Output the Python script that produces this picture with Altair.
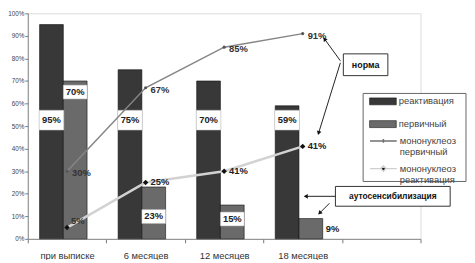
import math
import altair as alt
import pandas as pd

# ---------------- data ----------------
categories = ["при выписке", "6 месяцев", "12 месяцев", "18 месяцев"]
bar_series = ["реактивация", "первичный"]
react_values = [95, 75, 70, 59]
primary_values = [70, 23, 15, 9]
line_series = ["мононуклеоз первичный", "мононуклеоз реактивация"]
mono_primary = [30, 67, 85, 91]
mono_react = [5, 25, 30, 41]
mono_primary_labels = ["30%", "67%", "85%", "91%"]
mono_react_labels = ["5%", "25%", "41%", "41%"]
primary_label_at = [65.1, 9.9, 8.8, 4.4]   # where the grey-bar labels sit (value units)
y_ticks = list(range(0, 101, 10))

FONT = "Liberation Sans"
x_domain = categories + [" "]

bars = pd.DataFrame({
    "cat": categories * 2,
    "series": [bar_series[0]] * 4 + [bar_series[1]] * 4,
    "value": react_values + primary_values,
    "label": [f"{v}%" for v in react_values + primary_values],
})
react_df = bars[bars.series == bar_series[0]]
prim_lab = pd.DataFrame({
    "cat": categories, "series": bar_series[1],
    "at": primary_label_at, "label": [f"{v}%" for v in primary_values],
    "idx": range(4),
})
lines = pd.DataFrame({
    "cat": categories * 2,
    "series": [line_series[0]] * 4 + [line_series[1]] * 4,
    "value": mono_primary + mono_react,
    "label": mono_primary_labels + mono_react_labels,
    "idx": list(range(4)) * 2,
})
l1 = lines[lines.series == line_series[0]]
l2 = lines[lines.series == line_series[1]]
one = pd.DataFrame({"k": [0]})

# ---------------- encodings ----------------
X = alt.X("cat:N", sort=x_domain,
          scale=alt.Scale(domain=x_domain, paddingInner=0, paddingOuter=0),
          axis=alt.Axis(title=None, labelAngle=0, tickBand="extent", tickSize=4,
                        labelPadding=8, labelFontSize=9.5, labelColor="#333",
                        labelFont=FONT, tickColor="#777", domainColor="#888"))
XO = alt.XOffset("series:N",
                 scale=alt.Scale(domain=bar_series, paddingInner=0, paddingOuter=0.654, align=0.38))
Y_SCALE = alt.Scale(domain=[0, 100], nice=False)
Y_AXIS = alt.Axis(title=None, values=y_ticks, grid=False, labelExpr="datum.value + '%'",
                  labelOverlap=False, labelFontSize=6.4, labelFont=FONT, labelColor="#444",
                  tickSize=3, labelPadding=1, tickColor="#777", domainColor="#888")


def Yf(field):
    return alt.Y(field, scale=Y_SCALE, axis=Y_AXIS)


Xs = X

bar_layer = alt.Chart(bars).mark_bar(stroke="#111", strokeWidth=0.6).encode(
    x=X, xOffset=XO, y=Yf("value:Q"),
    color=alt.Color("series:N", scale=alt.Scale(domain=bar_series, range=["#383838", "#6a6a6a"]),
                    legend=alt.Legend(title=None, orient="none", legendX=345, legendY=84,
                                      padding=0, symbolType="M-1,-0.26H1V0.26H-1Z", symbolSize=729,
                                      symbolStrokeColor="#111", symbolStrokeWidth=0.6,
                                      clipHeight=10, rowPadding=13, labelOffset=2,
                                      labelFont=FONT, labelFontSize=9.5, labelColor="#444",
                                      labelLimit=200)),
)

box_path_big = "M-12.5,-10H12.5V10H-12.5Z"
box_path_small = "M-12,-7H12V7H-12Z"

react_box = alt.Chart(react_df).mark_point(shape=box_path_big, size=4, filled=True, fill="white",
                                           stroke="#bbb", strokeWidth=0.5, opacity=1).encode(
    x=Xs, xOffset=XO, y=alt.value(108))
react_txt = alt.Chart(react_df).mark_text(font=FONT, fontSize=9.5, fontWeight="bold", color="#222").encode(
    x=Xs, xOffset=XO, y=alt.value(108), text="label:N")

prim_in = alt.Chart(prim_lab).transform_filter("datum.idx < 3")
prim_box = prim_in.mark_point(shape=box_path_small, size=4, filled=True, fill="white",
                              stroke="#bbb", strokeWidth=0.5, opacity=1).encode(
    x=Xs, xOffset=XO, y=Yf("at:Q"))
prim_txt = prim_in.mark_text(font=FONT, fontSize=9.5, fontWeight="bold", color="#222").encode(
    x=Xs, xOffset=XO, y=Yf("at:Q"), text="label:N")
prim_out = alt.Chart(prim_lab).transform_filter("datum.idx == 3").mark_text(
    font=FONT, fontSize=9.5, fontWeight="bold", color="#222", align="left", dx=15).encode(
    x=Xs, xOffset=XO, y=Yf("at:Q"), text="label:N")

line1 = alt.Chart(l1).mark_line(color="#858585", strokeWidth=1.5).encode(x=Xs, y=Yf("value:Q"))
line2 = alt.Chart(l2).mark_line(color="#d2d2d2", strokeWidth=2.6).encode(x=Xs, y=Yf("value:Q"))
pts1 = alt.Chart(l1).mark_point(shape="circle", size=10, filled=True, color="#555", opacity=1).encode(
    x=Xs, y=Yf("value:Q"))
pts2 = alt.Chart(l2).mark_point(shape="diamond", size=30, filled=True, color="#111", opacity=1).encode(
    x=Xs, y=Yf("value:Q"))
lab1 = alt.Chart(l1).mark_text(font=FONT, fontSize=9.5, fontWeight="bold", color="#333",
                               align="left", dx=5, dy=2).encode(x=Xs, y=Yf("value:Q"), text="label:N")
lab2a = alt.Chart(l2).transform_filter("datum.idx == 0").mark_text(
    font=FONT, fontSize=9.5, fontWeight="bold", color="#333", align="left", dx=4, dy=-7).encode(
    x=Xs, y=Yf("value:Q"), text="label:N")
lab2b = alt.Chart(l2).transform_filter("datum.idx > 0").mark_text(
    font=FONT, fontSize=9.5, fontWeight="bold", color="#222", align="left", dx=5).encode(
    x=Xs, y=Yf("value:Q"), text="label:N")

# legend proxy for the two lines (invisible marks, visible legend)
sym1 = "M-1,0H1M0,-0.14V0.14"
sym2 = "M-1,0H-0.2M0.2,0H1M0,-0.2L0.2,0L0,0.2L-0.2,0Z"
line_legend = alt.Legend(title=None, orient="none", legendX=345, legendY=120, padding=0,
                         symbolSize=729, symbolStrokeWidth=1.5, symbolOpacity=1, clipHeight=18,
                         rowPadding=3, labelOffset=2, labelFont=FONT, labelFontSize=9.5,
                         labelColor="#444", labelLimit=200, labelExpr="split(datum.label, ' ')")
proxy = alt.Chart(lines).mark_point(opacity=0).encode(
    x=Xs, y=Yf("value:Q"),
    stroke=alt.Stroke("series:N", scale=alt.Scale(domain=line_series, range=["#707070", "#cfcfcf"]),
                      legend=line_legend),
    shape=alt.Shape("series:N", scale=alt.Scale(domain=line_series, range=[sym1, sym2]),
                    legend=line_legend),
    fill=alt.Fill("series:N", scale=alt.Scale(domain=line_series, range=["#707070", "#111"]),
                  legend=line_legend),
)

# ---------------- annotations ----------------
def rect(x1, y1, x2, y2, stroke="#333", sw=1):
    return alt.Chart(one).mark_rect(fill="white", stroke=stroke, strokeWidth=sw).encode(
        x=alt.value(x1), x2=alt.value(x2), y=alt.value(y1), y2=alt.value(y2))


def label(x, y, t, size=9, weight="bold"):
    return alt.Chart(one).mark_text(text=t, font=FONT, fontSize=size, fontWeight=weight,
                                    color="#111").encode(x=alt.value(x), y=alt.value(y))


def arrow(x1, y1, x2, y2):
    ang = math.degrees(math.atan2(x2 - x1, -(y2 - y1))) % 360
    r = alt.Chart(one).mark_rule(color="#222", strokeWidth=1).encode(
        x=alt.value(x1), y=alt.value(y1), x2=alt.value(x2), y2=alt.value(y2))
    h = alt.Chart(one).mark_point(shape="triangle-up", size=22, filled=True, color="#111",
                                  opacity=1, angle=ang).encode(x=alt.value(x2), y=alt.value(y2))
    return r + h


legend_box = rect(339, 81, 443, 170, stroke="#666", sw=1)
norma = rect(319, 41, 364, 63) + label(341.5, 52, "норма", 9)
auto = rect(311, 175, 427, 195) + label(369, 185, "аутосенсибилизация", 8.5)
arrows = (arrow(316, 48, 300, 26) + arrow(316, 50, 294, 121) +
          arrow(311, 185, 281, 185) + arrow(305, 192, 295, 202))

chart = alt.layer(
    bar_layer, react_box, react_txt, prim_box, prim_txt, prim_out,
    line2, line1, pts2, pts1, lab1, lab2a, lab2b, proxy,
    legend_box, norma, auto, arrows,
).properties(
    width=397, height=228,
    autosize=alt.AutoSizeParams(type="none"),
    padding={"left": 20, "top": 4, "right": 47, "bottom": 20},
).configure_view(
    fill="#ededed", stroke="#b5b5b5", strokeWidth=1,
).configure(background="white")

chart.save("out.html", embed_options={"renderer": "svg", "actions": False})
